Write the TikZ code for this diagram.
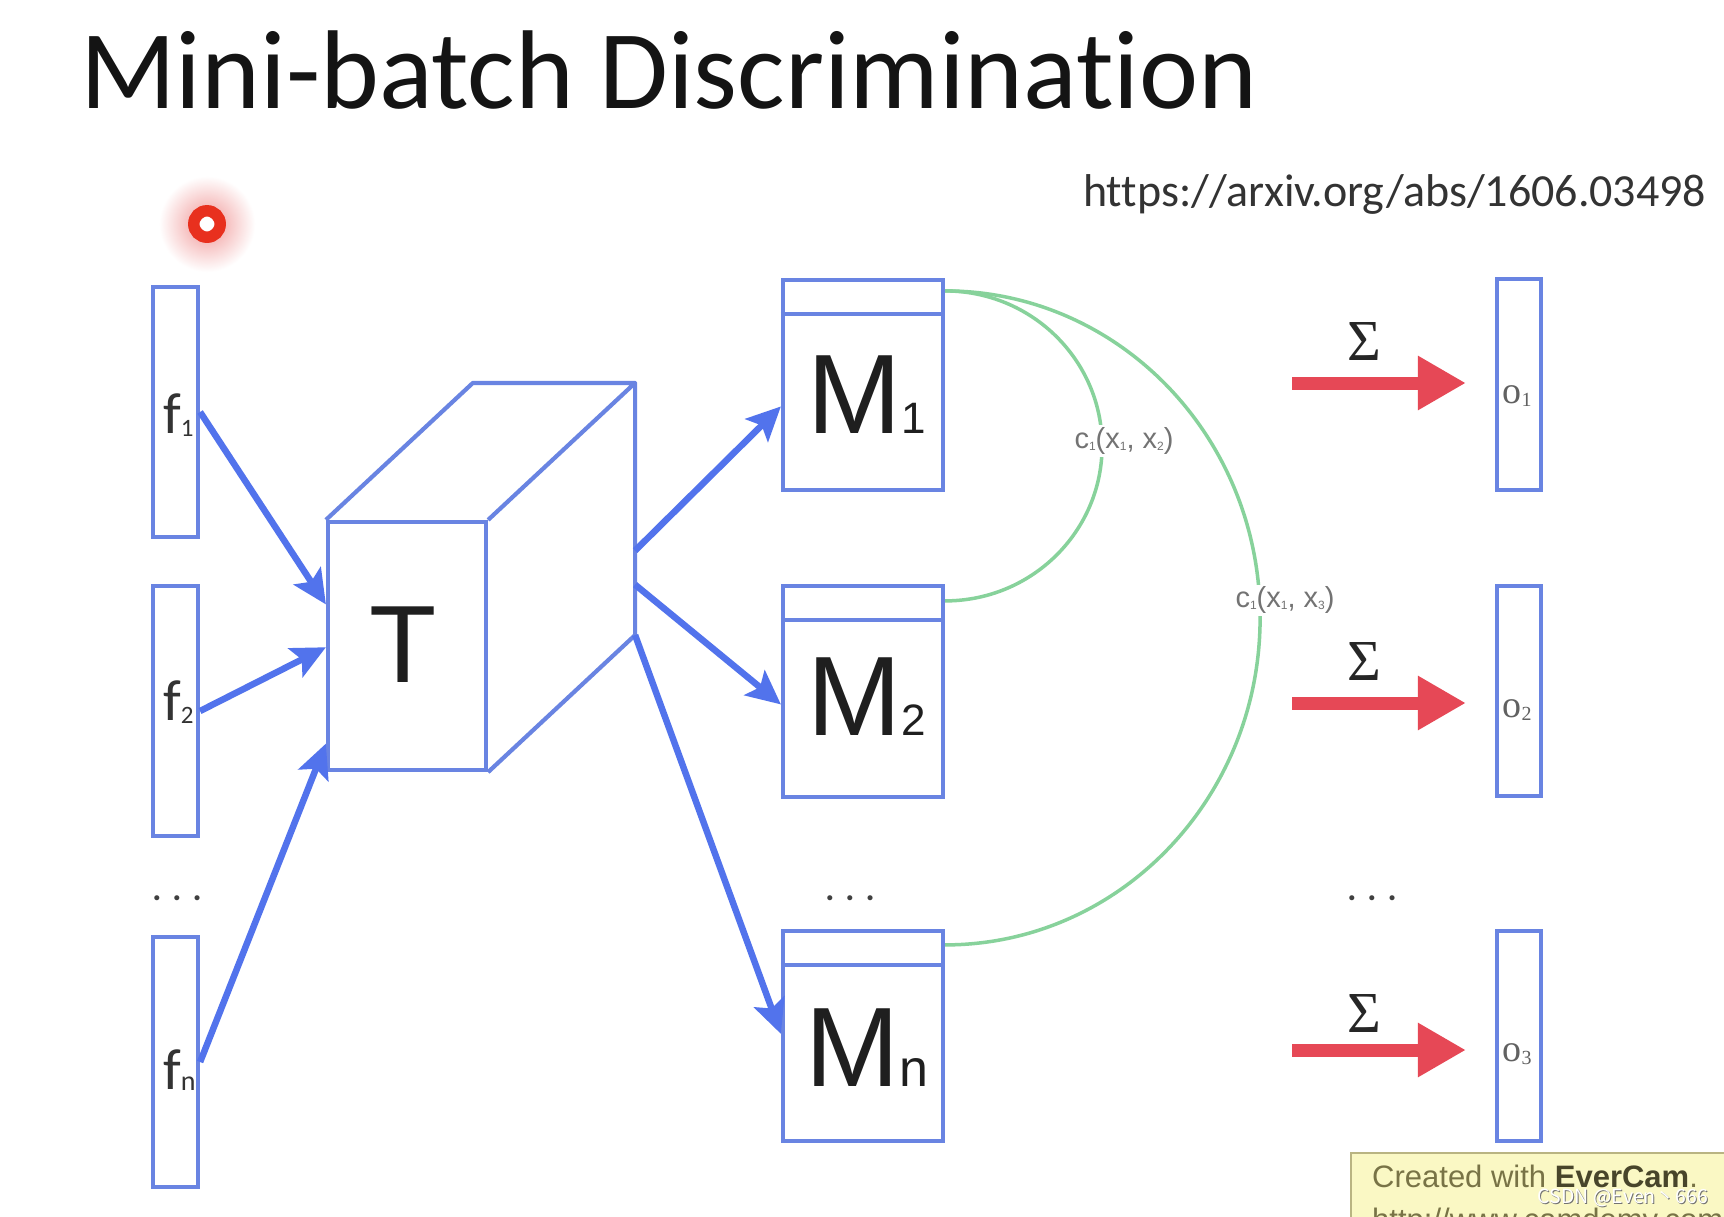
\documentclass[tikz,border=0pt]{standalone}
\usepackage{fontspec}
\setmainfont{Carlito}[Ligatures=NoCommon]
\newfontfamily\arialf{Liberation Sans}
\newfontfamily\serf{Liberation Serif}
\newfontfamily\cjk{Noto Sans CJK SC}
\usetikzlibrary{arrows.meta,calc}
\definecolor{boxblue}{RGB}{105,132,226}
\definecolor{arrblue}{RGB}{82,115,236}
\definecolor{arcgreen}{RGB}{135,210,155}
\definecolor{sumred}{RGB}{230,72,86}
\definecolor{lblgray}{RGB}{115,115,115}
\definecolor{wmyellow}{RGB}{250,248,196}
\definecolor{wmborder}{RGB}{185,180,130}
\definecolor{wmtext}{RGB}{120,115,70}
\definecolor{dotred}{RGB}{232,48,30}
\definecolor{glow}{RGB}{240,150,150}
\tikzset{
  vecbox/.style={draw=boxblue, line width=4.2pt, minimum width=45pt, minimum height=250pt, inner sep=0pt},
  membox/.style={draw=boxblue, line width=4.2pt, minimum width=160pt, minimum height=210pt, inner sep=0pt},
  outbox/.style={draw=boxblue, line width=4.2pt, minimum width=44pt, minimum height=211pt, inner sep=0pt},
  cubeline/.style={draw=boxblue, line width=4.2pt, line join=round},
  bluearrow/.style={draw=arrblue, line width=6.5pt, -{Stealth[length=34pt,width=32pt,inset=7pt]}},
  redarrow/.style={draw=sumred, line width=13pt, -{Triangle[length=48pt,width=51pt]}},
  simarc/.style={draw=arcgreen, line width=3.5pt},
  flabel/.style={anchor=base west, inner sep=0pt, text=black!80, font=\fontsize{58}{60}\selectfont},
  mlabel/.style={anchor=base, inner sep=0pt, text=black!88, font=\arialf\fontsize{113}{115}\selectfont},
  olabel/.style={anchor=base, inner sep=0pt, text=black!62, font=\serf\fontsize{38}{40}\selectfont},
  sigma/.style={inner sep=0pt, text=black!85, font=\serf\fontsize{58}{60}\selectfont},
  clabel/.style={fill=white, inner sep=2pt, text=lblgray, font=\arialf\fontsize{29}{30}\selectfont},
  dots/.style={inner sep=0pt, text=black!75, font=\bfseries\fontsize{34}{34}\selectfont},
}
\begin{document}
\begin{tikzpicture}[x=1pt,y=-1pt]
\useasboundingbox (0,0) rectangle (1724,1216);
\fill[white] (0,0) rectangle (1724,1216);
\clip (0,0) rectangle (1724,1216);

% title and reference
\node[anchor=base west, inner sep=0pt, text=black!92, font=\fontsize{112}{115}\selectfont] (title) at (80,108) {Mini-batch Discrimination};
\node[anchor=base west, inner sep=0pt, text=black!80, font=\fontsize{46}{48}\selectfont] (url) at (1083,206) {https://arxiv.org/abs/1606.03498};

% pointer dot
\shade[inner color=glow, outer color=white] (207,224) circle (48pt);
\draw[draw=dotred, fill=white, line width=11.5pt] (207,224) circle (13.2pt);

% input feature vectors
\node[vecbox] (f1) at (175.5,412) {};
\node[vecbox] (f2) at (175.5,711) {};
\node[vecbox] (fn) at (175.5,1062) {};
\node[flabel] (f1l) at (163,433) {f\raisebox{-3pt}{\fontsize{25}{25}\selectfont 1}};
\node[flabel] (f2l) at (163,720) {f\raisebox{-3pt}{\fontsize{25}{25}\selectfont 2}};
\node[flabel] (fnl) at (163,1089) {f\raisebox{-1pt}{\fontsize{28}{28}\selectfont n}};
\node[dots] (fdots) at (177,898) {.\hspace{11pt}.\hspace{11pt}.};

% tensor T (cube)
\node[draw=boxblue, line width=4.2pt, minimum width=158pt, minimum height=248pt, inner sep=0pt] (T) at (407,646) {};
\coordinate (Tbl) at ($(T.north west)+(147,-137)$);
\coordinate (Tbr) at ($(T.north east)+(147,-137)$);
\coordinate (Tbb) at ($(T.south east)+(147,-137)$);
\draw[cubeline] (T.north west) -- (Tbl) -- (Tbr) -- (T.north east);
\draw[cubeline] (Tbr) -- (Tbb) -- (T.south east);
\node[mlabel, font=\arialf\fontsize{110}{112}\selectfont] (Tl) at (403,682) {T};

% arrows into T
\draw[bluearrow] (f1.east) -- ($(T.north west)!0.335!(T.south west)$);
\draw[bluearrow] (f2.east) -- ($(T.north west)!0.505!(T.south west)$);
\draw[bluearrow] (fn.east) -- ($(T.north west)!0.887!(T.south west)$);

% memory boxes
\node[membox] (M1) at (863,385) {};
\node[membox, minimum height=211pt] (M2) at (863,691.5) {};
\node[membox] (Mn) at (863,1036) {};
\foreach \m in {M1,M2,Mn}{
  \draw[draw=boxblue, line width=4.2pt] ($(\m.north west)+(0,36)$) -- ($(\m.north east)+(0,36)$);
}
\node[mlabel] (M1l) at (867,433) {M\fontsize{44}{44}\selectfont 1};
\node[mlabel] (M2l) at (867,735) {M\fontsize{44}{44}\selectfont 2};
\node[mlabel] (Mnl) at (867,1086) {M\fontsize{52}{52}\selectfont n};
\node[dots] (mdots) at (850,898) {.\hspace{11pt}.\hspace{11pt}.};

% arrows out of T
\draw[bluearrow] ($(Tbr)!0.665!(Tbb)$) -- ($(M1.north west)!0.6!(M1.south west)$);
\draw[bluearrow] ($(Tbr)!0.80!(Tbb)$) -- ($(M2.north west)!0.56!(M2.south west)$);
\draw[bluearrow] ($(Tbr)!1.0!(Tbb)$) -- ($(Mn.north west)!0.49!(Mn.south west)$);

% similarity arcs
\coordinate (h1) at ($(M1.north east)+(0,13)$);
\coordinate (h2) at ($(M2.north east)+(0,17.5)$);
\coordinate (hn) at ($(Mn.north east)+(0,16.5)$);
\draw[simarc] (h1) arc[start angle=90, end angle=-90, x radius=157pt, y radius=155pt];
\draw[simarc] (h1) arc[start angle=90, end angle=-90, x radius=315pt, y radius=327pt];
\node[clabel] (c12) at (1124,441) {c\raisebox{-2pt}{\fontsize{12}{12}\selectfont 1}(x\raisebox{-2pt}{\fontsize{12}{12}\selectfont 1}, x\raisebox{-2pt}{\fontsize{12}{12}\selectfont 2})};
\node[clabel] (c13) at (1285,600) {c\raisebox{-2pt}{\fontsize{12}{12}\selectfont 1}(x\raisebox{-2pt}{\fontsize{12}{12}\selectfont 1}, x\raisebox{-2pt}{\fontsize{12}{12}\selectfont 3})};

% output vectors
\node[outbox] (o1) at (1519,384.5) {};
\node[outbox, minimum height=210pt] (o2) at (1519,691) {};
\node[outbox, minimum height=210pt] (o3) at (1519,1036) {};
\node[olabel] (o1l) at (1517,403) {o\raisebox{-3pt}{\fontsize{20}{20}\selectfont 1}};
\node[olabel] (o2l) at (1517,717) {o\raisebox{-3pt}{\fontsize{20}{20}\selectfont 2}};
\node[olabel] (o3l) at (1517,1061) {o\raisebox{-3pt}{\fontsize{20}{20}\selectfont 3}};
\node[dots] (odots) at (1372,898) {.\hspace{11pt}.\hspace{11pt}.};

% sum arrows
\coordinate (s1) at (1292,383);
\coordinate (s2) at (1292,703);
\coordinate (s3) at (1292,1050);
\draw[redarrow, shorten >=29pt] (s1) -- (s1 -| o1.west);
\draw[redarrow, shorten >=29pt] (s2) -- (s2 -| o2.west);
\draw[redarrow, shorten >=29pt] (s3) -- (s3 -| o3.west);
\node[sigma] (sg1) at (1364,342) {Σ};
\node[sigma] (sg2) at (1364,662) {Σ};
\node[sigma] (sg3) at (1364,1013) {Σ};

% watermark
\draw[fill=wmyellow, draw=wmborder, line width=2pt] (1351,1153) rectangle (1740,1240);
\node[anchor=base west, inner sep=0pt, text=wmtext, font=\arialf\fontsize{31}{32}\selectfont] (wm1) at (1372,1187) {Created with \textbf{\textcolor{wmtext!60!black}{EverCam}}.};
\node[anchor=base west, inner sep=0pt, text=wmtext, font=\arialf\fontsize{31}{32}\selectfont] (wm2) at (1372,1230) {http://www.camdemy.com};
\node[anchor=base east, inner sep=0pt, text=black!55, font=\cjk\fontsize{19.5}{20}\selectfont] (csdns) at (1709,1204) {CSDN @Even丶666};
\node[anchor=base east, inner sep=0pt, text=white, font=\cjk\fontsize{19.5}{20}\selectfont] (csdn) at (1708,1203) {CSDN @Even丶666};
\end{tikzpicture}
\end{document}
